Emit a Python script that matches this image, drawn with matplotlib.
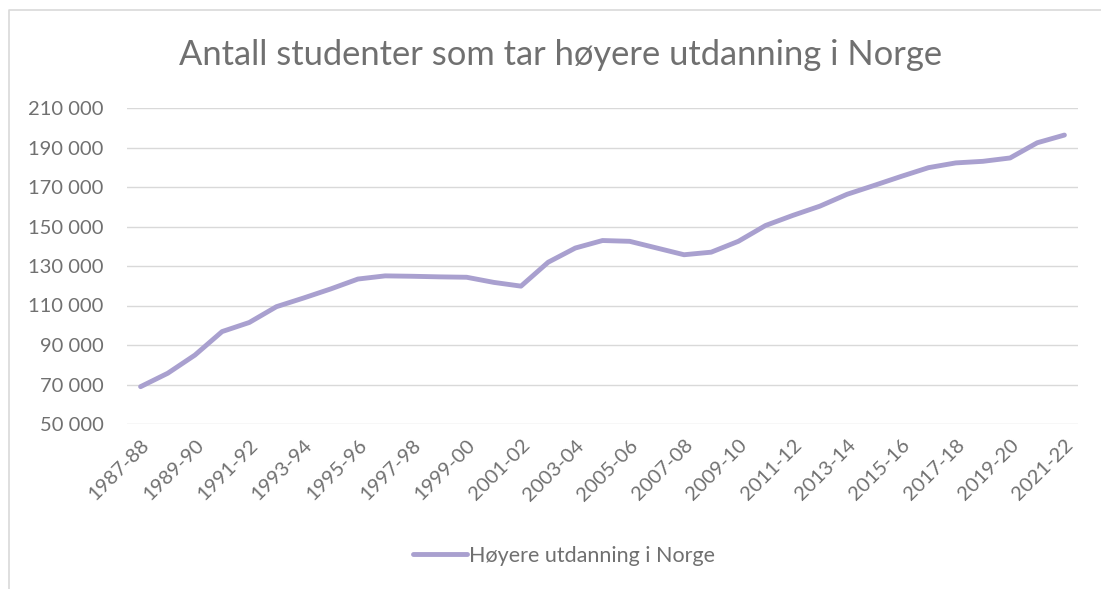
import matplotlib.pyplot as plt
from matplotlib.lines import Line2D

plt.rcParams['font.family'] = ['Lato', 'DejaVu Sans']

# Skoleår
years = [f"{y}-{str(y + 1)[-2:]}" for y in range(1987, 2022)]
# Antall studenter (lest av figuren)
students = [68900, 75700, 84900, 96800, 101400, 109400, 113800, 118400, 123400,
            125000, 124800, 124500, 124300, 121700, 119800, 131900, 139100,
            142900, 142500, 139100, 135700, 137000, 142500, 150500, 155600,
            160300, 166300, 170800, 175400, 179800, 182200, 183000, 184700,
            192400, 196300]

line_color = '#A9A0CF'
text_color = '#707070'
grid_color = '#D9D9D9'

W, H = 1101, 589
fig = plt.figure(figsize=(W / 100, H / 100), dpi=100)
ax = fig.add_axes([127 / W, 1 - 424 / H, (1078 - 127) / W, (424 - 108) / H])

x = list(range(len(years)))
ax.plot(x, students, color=line_color, linewidth=3.5, solid_capstyle='round',
        solid_joinstyle='round', zorder=3)

ax.set_xlim(-0.5, len(years) - 0.5)
ax.set_ylim(50000, 210000)
ax.set_yticks(range(50000, 210001, 20000))
ax.set_yticklabels([f"{v:,}".replace(",", " ") for v in range(50000, 210001, 20000)])
ax.set_xticks(x[::2])
ax.set_xticklabels(years[::2], rotation=45, ha='right', rotation_mode='anchor')

ax.grid(axis='y', color=grid_color, linewidth=1.0)
ax.set_axisbelow(True)
for s in ax.spines.values():
    s.set_visible(False)
ax.tick_params(axis='both', length=0, colors=text_color, labelsize=14.5)
ax.tick_params(axis='y', pad=17)
ax.tick_params(axis='x', pad=9)

fig.text(561 / W, 1 - 55 / H, 'Antall studenter som tar høyere utdanning i Norge',
         ha='center', va='center', fontsize=24.8, color=text_color)

# ramme (venstre og topp)
fig.add_artist(Line2D([9 / W, 9 / W, 1], [0, 1 - 10 / H, 1 - 10 / H],
                      transform=fig.transFigure, color=grid_color, linewidth=1.2))

handle = Line2D([], [], color=line_color, linewidth=3.5, solid_capstyle='round')
fig.legend([handle], ['Høyere utdanning i Norge'], loc='center',
           bbox_to_anchor=(564 / W, 1 - 556 / H), frameon=False, fontsize=15.5,
           labelcolor=text_color, handlelength=2.5, handletextpad=0.1)

fig.savefig('out.png', dpi=100)
